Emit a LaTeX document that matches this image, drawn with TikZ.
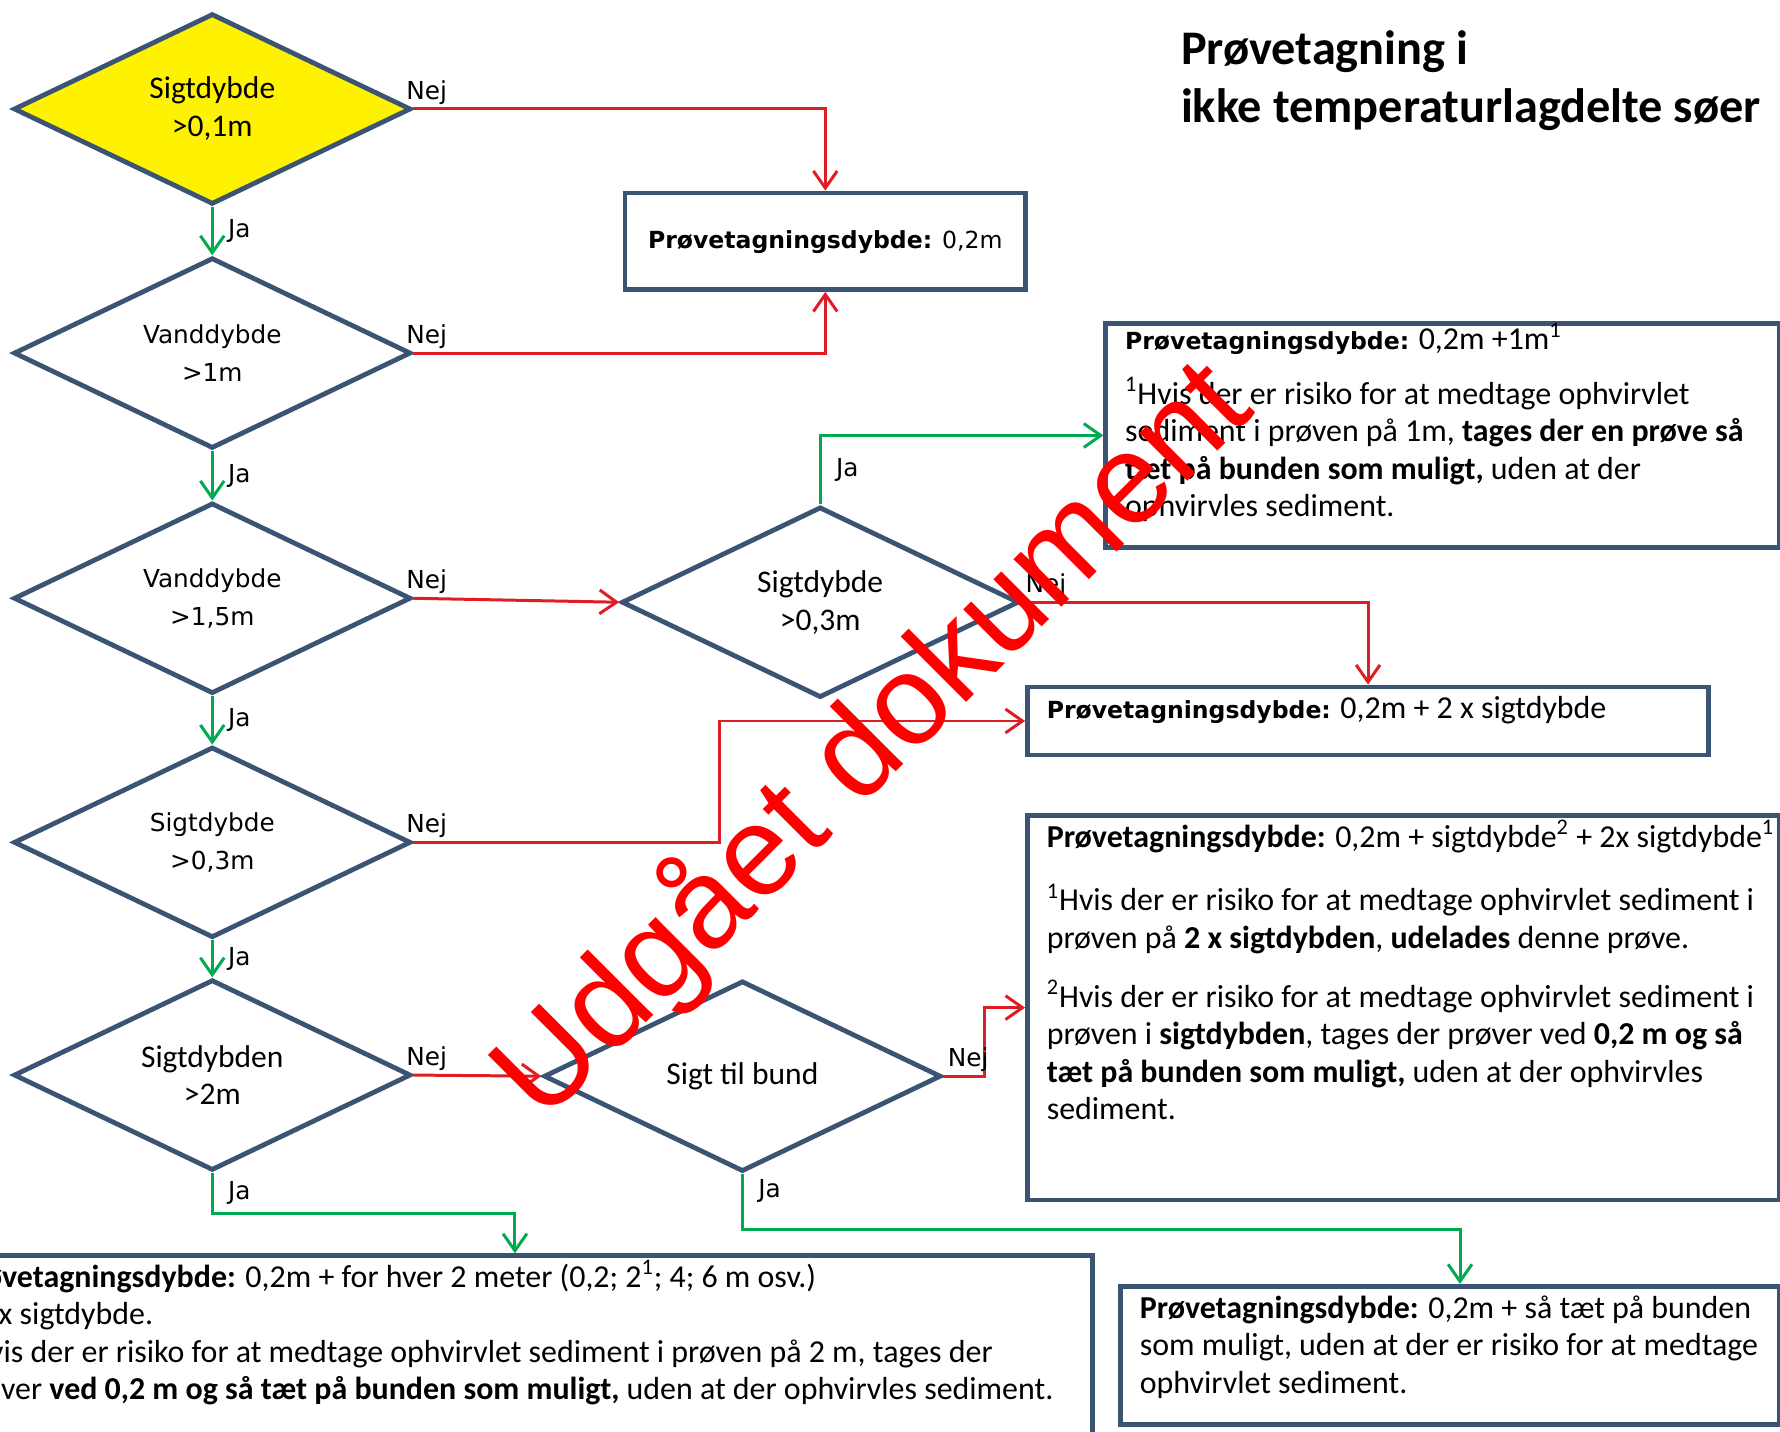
\documentclass[tikz,border=0pt]{standalone}
\usepackage{fontspec}
\setmainfont{Carlito}
\newfontfamily\tahoma{DejaVu Sans}
\newfontfamily\arial{Liberation Sans}
\usetikzlibrary{shapes.geometric,arrows.meta}

\definecolor{frame}{RGB}{59,84,115}
\definecolor{nejred}{RGB}{222,30,36}
\definecolor{jagreen}{RGB}{0,170,80}
\definecolor{stampred}{RGB}{255,0,0}

\newcommand{\calsize}{\fontsize{16}{18.8}\selectfont}
\newcommand{\tahsize}{\tahoma\fontsize{12.4}{19}\selectfont}
\newcommand{\pdybde}{{\tahoma\bfseries\fontsize{11.8}{19}\selectfont Prøvetagningsdybde:}}

\begin{document}
\begin{tikzpicture}[
    >={Straight Barb[length=0.3cm,width=0.42cm]},
    dia/.style={diamond, draw=frame, line width=2.4pt, fill=white, aspect=2, inner sep=0pt,
        minimum width=7cm, minimum height=3.36cm, align=center, font=\fontsize{15.8}{19}\selectfont},
    diawide/.style={dia, font=\tahsize},
    box/.style={draw=frame, line width=2.4pt, fill=white, anchor=north west, align=flush left,
        inner xsep=0.34cm, inner ysep=0.2cm, text height=0.36cm, font=\calsize},
    ja/.style={->, draw=jagreen, line width=1.5pt},
    nej/.style={->, draw=nejred, line width=1.5pt},
    lbl/.style={font=\tahsize, inner sep=1.5pt},
    jalbl/.style={lbl, right, xshift=0.2cm},
    nejlbl/.style={lbl, above right}
]
    \useasboundingbox (0,0) rectangle (31.36,-25.22);
    \clip (0,0) rectangle (31.36,-25.22);
    \fill[white] (0,0) rectangle (31.36,-25.22);

    \node[dia, fill=yellow] (sigt01) at (3.74,-1.92) {Sigtdybde\\>0,1m};
    \node[diawide] (vand1) at (3.74,-6.22) {Vanddybde\\>1m};
    \node[diawide] (vand15) at (3.74,-10.54) {Vanddybde\\>1,5m};
    \node[diawide] (sigt03) at (3.74,-14.84) {Sigtdybde\\>0,3m};
    \node[dia] (sigt2) at (3.74,-18.94) {Sigtdybden\\>2m};
    \node[dia] (sigt03b) at (14.45,-10.61) {Sigtdybde\\>0,3m};
    \node[dia] (bund) at (13.08,-18.96) {Sigt til bund};

    \node[anchor=north west, inner sep=0pt, align=left, font=\bfseries\fontsize{24.2}{29}\selectfont] (title) at (20.8,-0.54) {Prøvetagning i\\ikke temperaturlagdelte søer};

    \node[box, anchor=center, minimum width=7.06cm, minimum height=1.7cm, font=\tahoma\fontsize{11.8}{19}\selectfont] (box02) at (14.54,-4.25) {\textbf{Prøvetagningsdybde:} 0,2m};
    \node[box, text width=11.18cm, text height=0.26cm, text depth=3.28cm] (box1m) at (19.44,-5.66) {\pdybde{} 0,2m +1m\textsuperscript{1}\\[0.3cm]
        \textsuperscript{1}Hvis der er risiko for at medtage ophvirvlet\\
        \mbox{sediment i prøven på 1m, \textbf{tages der en prøve så}}\\
        \textbf{tæt på bunden som muligt,} uden at der\\
        ophvirvles sediment.};
    \node[box, text width=11.32cm, text depth=0.44cm] (box2x) at (18.06,-12.06) {\pdybde{} 0,2m + 2 x sigtdybde};
    \node[box, text width=12.56cm, text depth=6.02cm] (box4) at (18.06,-14.32) {\mbox{\textbf{Prøvetagningsdybde:} 0,2m + sigtdybde\textsuperscript{2} + 2x sigtdybde\textsuperscript{1}}\\[0.46cm]
        \mbox{\textsuperscript{1}Hvis der er risiko for at medtage ophvirvlet sediment i}\\
        prøven på \textbf{2 x sigtdybden}, \textbf{udelades} denne prøve.\\[0.38cm]
        \mbox{\textsuperscript{2}Hvis der er risiko for at medtage ophvirvlet sediment i}\\
        \mbox{prøven i \textbf{sigtdybden}, tages der prøver ved \textbf{0,2 m og så}}\\
        \textbf{tæt på bunden som muligt,} uden at der ophvirvles\\
        sediment.};
    \node[box, text width=19.66cm, text depth=3.04cm] (box5) at (-1.14,-22.08) {\textbf{Prøvetagningsdybde:} 0,2m + for hver 2 meter (0,2; 2\textsuperscript{1}; 4; 6 m osv.)\\
        \hspace*{0.45cm}2x sigtdybde.\\
        \mbox{\textsuperscript{1}Hvis der er risiko for at medtage ophvirvlet sediment i prøven på 2 m, tages der}\\
        \mbox{prøver \textbf{ved 0,2 m og så tæt på bunden som muligt,} uden at der ophvirvles sediment.}};
    \node[box, text width=10.92cm, text depth=1.68cm] (box6) at (19.7,-22.62) {\mbox{\textbf{Prøvetagningsdybde:} 0,2m + så tæt på bunden}\\
        \mbox{som muligt, uden at der er risiko for at medtage}\\
        ophvirvlet sediment.};

    \draw[nej] (sigt01.east) node[nejlbl, xshift=-0.2cm] {Nej} -| (box02.north);
    \draw[ja] (sigt01.south) -- node[jalbl] {Ja} (vand1.north);
    \draw[nej] (vand1.east) node[nejlbl, xshift=-0.2cm] {Nej} -| (box02.south);
    \draw[ja] (vand1.south) -- node[jalbl] {Ja} (vand15.north);
    \draw[nej] (vand15.east) node[nejlbl, xshift=-0.2cm] {Nej} -- (sigt03b.west);
    \draw[ja] (vand15.south) -- node[jalbl] {Ja} (sigt03.north);
    \draw[nej] (sigt03.east) node[nejlbl, xshift=-0.2cm] {Nej} -- ++(5.4,0) |- (box2x.west);
    \draw[ja] (sigt03.south) -- node[jalbl] {Ja} (sigt2.north);
    \draw[nej] (sigt2.east) node[nejlbl, xshift=-0.2cm] {Nej} -- (bund.west);
    \draw[ja] (sigt2.south) -- node[jalbl] {Ja} ++(0,-0.72) -| (box5.north);
    \draw[ja] (sigt03b.north) |- node[jalbl, pos=0.25] {Ja} (box1m.west);
    \draw[nej] (sigt03b.east) node[nejlbl] {Nej} -| (box2x.north);
    \draw[nej] (bund.east) node[nejlbl] {Nej} -- ++(0.72,0) |- (box4.west);
    \draw[ja] (bund.south) -- node[jalbl, pos=0.3] {Ja} ++(0,-0.98) -| ([xshift=0.18cm]box6.north);

    \node[rotate=45, anchor=base, text=stampred, font=\arial\fontsize{64}{70}\selectfont] (stamp) at (15.86,-13.54) {Udgået dokument};
\end{tikzpicture}
\end{document}
